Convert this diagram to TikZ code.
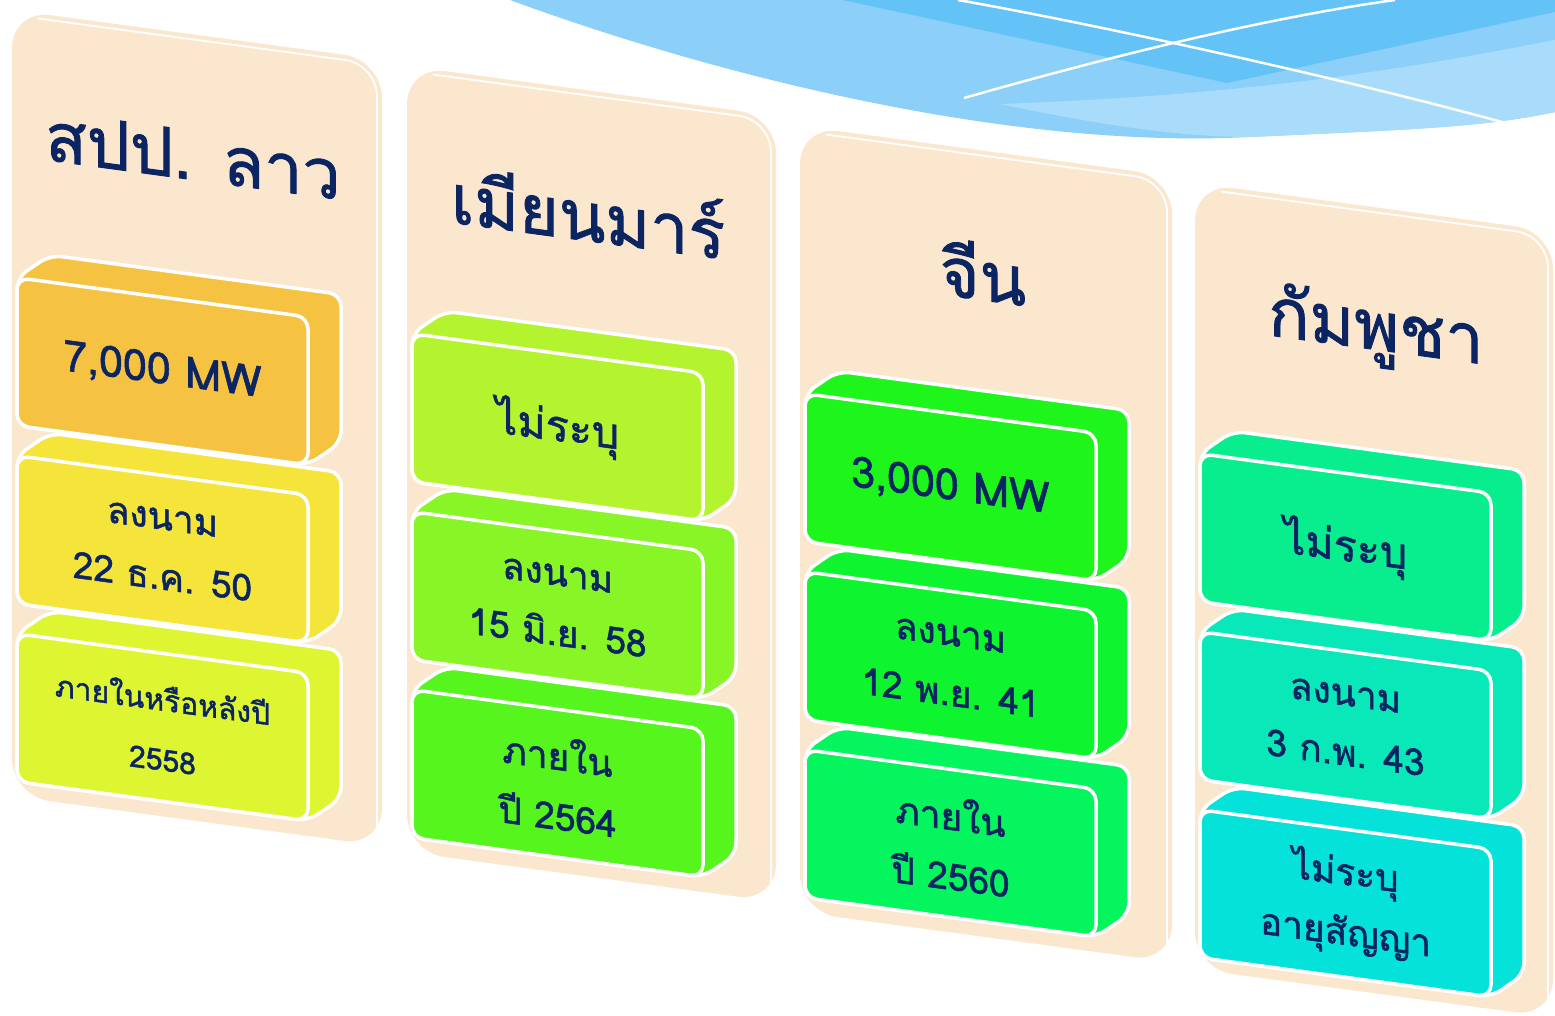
\documentclass[tikz,border=0pt]{standalone}
\usepackage{fontspec}
\newfontfamily\thaifont[Script=Thai,FakeBold=1.3]{Loma}
\definecolor{peach}{HTML}{FBE6CE}
\definecolor{navy}{HTML}{0B2462}
\definecolor{skydark}{HTML}{63C2F6}
\definecolor{skymid}{HTML}{8CCFF8}
\definecolor{skylight}{HTML}{A9DCFA}
\definecolor{cA}{HTML}{F5C242}
\definecolor{cB}{HTML}{F5E43A}
\definecolor{cC}{HTML}{DEF532}
\definecolor{cD}{HTML}{B4F42E}
\definecolor{cE}{HTML}{88F526}
\definecolor{cF}{HTML}{56F51E}
\definecolor{cG}{HTML}{1EF51A}
\definecolor{cH}{HTML}{0EF530}
\definecolor{cI}{HTML}{04F55E}
\definecolor{cJ}{HTML}{08EE8E}
\definecolor{cK}{HTML}{08E8B8}
\definecolor{cL}{HTML}{04E2DA}
\tikzset{
  slabface/.style={draw=white, line width=3.5pt, rounded corners=12pt, line join=round},
  panelbody/.style={fill=peach, rounded corners=38pt},
  bevel/.style={draw=white, line width=1.8pt, rounded corners=32pt},
  boxtext/.style={text=navy, align=center, transform shape, inner sep=0pt,
    font=\thaifont\fontsize{37}{60}\selectfont},
  bigbox/.style={font=\thaifont\fontsize{43}{60}\selectfont},
  smallbox/.style={font=\thaifont\fontsize{30}{60}\selectfont},
  titletext/.style={text=navy, transform shape, inner sep=0pt,
    font=\thaifont\fontsize{68}{80}\selectfont},
}
% #1 node name, #2 top y (local), #3 colour, #4 extra text style, #5 text
\newcommand\slabbox[5]{%
  \path[fill=#3, slabface] (5,#2) -- (38,#2-27) -- (329,#2-27) -- (329,#2+121)
     -- (296,#2+148) -- (5,#2+148) -- cycle;
  \path[fill=#3, slabface] (5,#2) rectangle (296,#2+148);
  \node[boxtext, #4] (#1) at (150.5,#2+74) {#5};
}
% #1 width
\newcommand\panelshape[1]{%
  \path[panelbody] (0,0) rectangle (#1,786);
  \path[bevel] (26,5) -- (#1-5,5) -- (#1-5,781);
}
\begin{document}
\begin{tikzpicture}[x=1pt,y=-1pt]
\useasboundingbox (0,0) rectangle (1555,1016);
\fill[white] (0,0) rectangle (1555,1016);
% decorative sky wave
\fill[skymid] (510,0) .. controls (700,70) and (1000,150) .. (1250,137)
   .. controls (1400,130) and (1480,128) .. (1555,112) -- (1555,0) -- cycle;
\fill[skylight] (1000,104) .. controls (1100,125) and (1180,137) .. (1250,137)
   .. controls (1400,130) and (1480,128) .. (1555,112) -- (1555,40)
   .. controls (1400,70) and (1250,95) .. (1000,104) -- cycle;
\fill[skydark] (843,0) -- (1227,83) -- (1555,12) -- (1555,0) -- cycle;
\draw[white, line width=2.5pt] (958,0) .. controls (1100,25) and (1350,80) .. (1509,124);
\draw[white, line width=2.5pt] (964,98) .. controls (1080,65) and (1250,20) .. (1395,0);

% column 1
\begin{scope}[shift={(12,10)}, yslant=-0.135]
  \panelshape{370}
  \node[titletext] (t1) at (181,121) {สปป. ลาว};
  \slabbox{b13}{623}{cC}{smallbox}{ภายในหรือหลังปี\\2558}
  \slabbox{b12}{445}{cB}{}{ลงนาม\\22 ธ.ค. 50}
  \slabbox{b11}{267}{cA}{bigbox}{7,000 MW}
\end{scope}
% column 2
\begin{scope}[shift={(407,66)}, yslant=-0.135]
  \panelshape{369}
  \node[titletext] (t2) at (181,121) {เมียนมาร์};
  \slabbox{b23}{623}{cF}{}{ภายใน\\ปี 2564}
  \slabbox{b22}{445}{cE}{}{ลงนาม\\15 มิ.ย. 58}
  \slabbox{b21}{267}{cD}{bigbox}{ไม่ระบุ}
\end{scope}
% column 3
\begin{scope}[shift={(800,126)}, yslant=-0.135]
  \panelshape{372}
  \node[titletext] (t3) at (183,121) {จีน};
  \slabbox{b33}{623}{cI}{}{ภายใน\\ปี 2560}
  \slabbox{b32}{445}{cH}{}{ลงนาม\\12 พ.ย. 41}
  \slabbox{b31}{267}{cG}{bigbox}{3,000 MW}
\end{scope}
% column 4
\begin{scope}[shift={(1195,183)}, yslant=-0.135]
  \panelshape{358}
  \node[titletext] (t4) at (181,124) {กัมพูชา};
  \slabbox{b43}{626}{cL}{}{ไม่ระบุ\\อายุสัญญา}
  \slabbox{b42}{448}{cK}{}{ลงนาม\\3 ก.พ. 43}
  \slabbox{b41}{270}{cJ}{bigbox}{ไม่ระบุ}
\end{scope}
\end{tikzpicture}
\end{document}
